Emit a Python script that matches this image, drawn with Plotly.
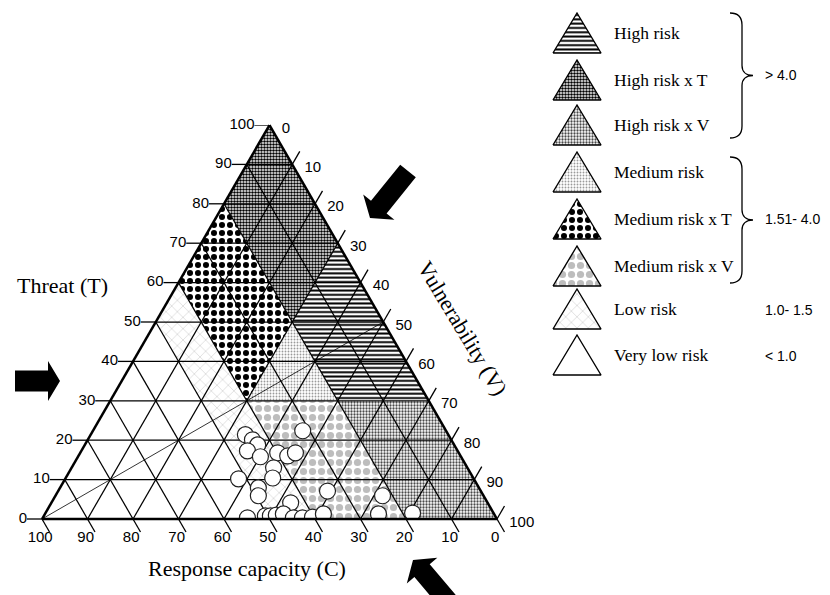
import math
import plotly.graph_objects as go

W, H = 830, 595
SQ3 = math.sqrt(3) / 2

# Ternary grid / tick values (percent)
TICKS = list(range(0, 101, 10))

# Risk zones: corners given as Threat (T), Vulnerability (V), Response capacity (C)
ZONE_NAMES = ["High risk", "High risk x T", "High risk x V", "Medium risk",
              "Medium risk x T", "Medium risk x V", "Low risk", "Very low risk"]
ZONE_T = [[70, 50, 30, 30], [100, 80, 50, 70], [30, 30, 0, 0], [50, 30, 30],
          [80, 60, 30, 50], [30, 30, 0, 0], [60, 50, 0, 0], [50, 0, 0]]
ZONE_V = [[30, 30, 50, 70], [0, 0, 30, 30], [50, 70, 100, 80], [30, 50, 30],
          [0, 0, 30, 30], [30, 50, 80, 60], [0, 0, 50, 60], [0, 0, 50]]
ZONE_C = [[0, 20, 20, 0], [0, 20, 20, 0], [20, 0, 0, 20], [20, 20, 40],
          [20, 40, 40, 20], [40, 20, 20, 40], [40, 50, 50, 40], [50, 100, 50]]

# Risk index classes shown beside the key
CLASS_LABELS = ["> 4.0", "1.51- 4.0", "1.0- 1.5", "< 1.0"]

# Observed sites (T and V in percent, C is the remainder)
SITE_T = [21.4, 20.1, 18.8, 17.3, 15.8, 16.8, 16.0, 16.8, 22.4, 13.0, 10.2, 10.4,
          7.9, 5.9, 4.1, 7.1, 0.3, 0.8, 0.8, 1.0, 1.3, 0.3, 0.3, 0.5, 1.3, 1.3,
          5.9, 1.5]
SITE_V = [34.0, 36.2, 38.0, 36.5, 40.1, 43.4, 46.0, 47.3, 46.1, 44.4, 38.1, 45.5,
          43.6, 44.6, 52.6, 59.2, 45.0, 48.7, 49.8, 51.0, 52.4, 55.1, 57.1, 59.2,
          61.2, 73.3, 71.9, 80.7]

# Fill textures for each zone
PATTERNS = {
    "High risk": dict(shape="-", fgcolor="black", bgcolor="white", size=4.3,
                      solidity=0.45, fgopacity=1),
    "High risk x T": dict(shape=".", fgcolor="black", bgcolor="white", size=3,
                          solidity=0.55, fgopacity=1),
    "High risk x V": dict(shape=".", fgcolor="#4a4a4a", bgcolor="white", size=3,
                          solidity=0.45, fgopacity=1),
    "Medium risk": dict(shape=".", fgcolor="#9a9a9a", bgcolor="white", size=3,
                        solidity=0.3, fgopacity=1),
    "Medium risk x T": dict(shape=".", fgcolor="black", bgcolor="white", size=8,
                            solidity=0.45, fgopacity=1),
    "Medium risk x V": dict(shape=".", fgcolor="#bdbdbd", bgcolor="white", size=9,
                            solidity=0.5, fgopacity=1),
    "Low risk": dict(shape="x", fgcolor="#cfcfcf", bgcolor="white", size=8,
                     solidity=0.15, fgopacity=1),
    "Very low risk": None,
}

SANS = "Liberation Sans, Arial, sans-serif"
SERIF = "Liberation Serif, Times New Roman, serif"
TICK_FONT = dict(family=SANS, size=15, color="black")

# placement of the triangle on the page (pixels)
TRI_LEFT, TRI_RIGHT, TRI_TOP, TRI_BOTTOM = 42, 497, 125, 519
TRI_W, TRI_H = TRI_RIGHT - TRI_LEFT, TRI_BOTTOM - TRI_TOP
DOM_X = [TRI_LEFT / W, TRI_RIGHT / W]
DOM_Y = [1 - TRI_BOTTOM / H, 1 - TRI_TOP / H]
# the planar under-layer reaches a little past the triangle so the ticks and
# labels around the frame sit inside its ranges (same scale as the triangle)
PAD_X, PAD_Y = 40, 45
PLANE_DOM_X = [(TRI_LEFT - PAD_X) / W, (TRI_RIGHT + PAD_X) / W]
PLANE_RANGE_X = [-PAD_X / TRI_W, 1 + PAD_X / TRI_W]
PLANE_DOM_Y = [1 - (TRI_BOTTOM + PAD_Y) / H, DOM_Y[1]]
PLANE_RANGE_Y = [-PAD_Y / TRI_H * SQ3, SQ3]

fig = go.Figure()


def project(t, v):
    """Ternary (T, V) percentages -> planar coordinates of the under-layer."""
    return [(vv + tt / 2) / 100 for tt, vv in zip(t, v)], [tt / 100 * SQ3 for tt in t]


# ---- textured zones, on a planar layer lying under the ternary subplot ----
for name, t, v in zip(ZONE_NAMES, ZONE_T, ZONE_V):
    pat = PATTERNS[name]
    kw = dict(fillpattern=pat) if pat else {}
    px, py = project(t + t[:1], v + v[:1])
    fig.add_trace(go.Scatter(
        x=px, y=py, mode="lines", fill="toself", fillcolor="white",
        line=dict(width=0, color="rgba(0,0,0,0)"), hoverinfo="skip",
        showlegend=False, xaxis="x2", yaxis="y2", **kw))

# ---- tick marks, each running along its own grid direction outside the frame ----
TL = 3.3  # tick length in percent units
tt, tv = [], []
for k in TICKS:
    tt += [k, k, None]; tv += [0, -TL, None]                         # Threat
    tt += [100 - k, 100 - k + TL, None]; tv += [k, k, None]          # Vulnerability
    tt += [0, -TL, None]; tv += [100 - k, 100 - k + TL, None]        # Response capacity
kx = [None if a is None else (b + a / 2) / 100 for a, b in zip(tt, tv)]
ky = [None if a is None else a / 100 * SQ3 for a in tt]
fig.add_trace(go.Scatter(x=kx, y=ky, mode="lines", cliponaxis=False,
                         line=dict(color="black", width=1.3), hoverinfo="skip",
                         showlegend=False, xaxis="x2", yaxis="y2"))

labels = [str(k) for k in TICKS]
# Threat labels, left of the horizontal ticks
lx, ly = project(TICKS, [-TL] * len(TICKS))
fig.add_trace(go.Scatter(x=lx, y=ly, mode="text", text=labels, textposition="middle left",
                         textfont=TICK_FONT, cliponaxis=False, hoverinfo="skip",
                         showlegend=False, xaxis="x2", yaxis="y2"))
# Vulnerability labels, right of the right-hand edge
lx, ly = project([100 - k - 1.0 for k in TICKS], [k + 3.2 for k in TICKS])
fig.add_trace(go.Scatter(x=lx, y=ly, mode="text", text=labels, textposition="middle right",
                         textfont=TICK_FONT, cliponaxis=False, hoverinfo="skip",
                         showlegend=False, xaxis="x2", yaxis="y2"))
# Response capacity labels, under the bottom edge
lx, ly = project([-4.8] * len(TICKS), [100 - k + 2.0 for k in TICKS])
fig.add_trace(go.Scatter(x=lx, y=ly, mode="text", text=labels, textposition="middle center",
                         textfont=TICK_FONT, cliponaxis=False, hoverinfo="skip",
                         showlegend=False, xaxis="x2", yaxis="y2"))

# ---- grid lines on the ternary subplot (a = T, b = C, c = V) ----
ga, gb, gc = [], [], []
for k in TICKS[1:-1]:
    r = 100 - k
    ga += [k, k, None]; gc += [0, r, None]; gb += [r, 0, None]      # constant T
    ga += [0, r, None]; gc += [k, k, None]; gb += [r, 0, None]      # constant V
    ga += [0, r, None]; gc += [r, 0, None]; gb += [k, k, None]      # constant C
fig.add_trace(go.Scatterternary(a=ga, b=gb, c=gc, mode="lines",
                                line=dict(color="black", width=1.25),
                                hoverinfo="skip", showlegend=False))

# T = V reference line from the C corner
fig.add_trace(go.Scatterternary(a=[0, 50], b=[100, 0], c=[0, 50], mode="lines",
                                line=dict(color="black", width=0.8),
                                hoverinfo="skip", showlegend=False))

# ---- sites ----
SITE_C = [100 - t - v for t, v in zip(SITE_T, SITE_V)]
fig.add_trace(go.Scatterternary(
    a=SITE_T, b=SITE_C, c=SITE_V, mode="markers",
    marker=dict(size=16, color="white", line=dict(color="#222", width=1.2)),
    showlegend=False))

# ---- key (drawn on a pixel-scaled helper axis) ----
KEY_Y = [33, 80, 125, 172, 219, 266, 309, 355]
for name, yc in zip(ZONE_NAMES, KEY_Y):
    pat = PATTERNS[name]
    kw = dict(fillpattern=pat) if pat else {}
    base, top = yc + 20, yc - 20
    fig.add_trace(go.Scatter(
        x=[553, 601, 577, 553], y=[base, base, top, base], mode="lines",
        fill="toself", fillcolor="white", line=dict(color="black", width=1.4),
        hoverinfo="skip", showlegend=False, xaxis="x", yaxis="y", **kw))

annotations = []
for name, yc in zip(ZONE_NAMES, KEY_Y):
    annotations.append(dict(x=612, y=yc, xref="x", yref="y", text=name, showarrow=False,
                            xanchor="left", yanchor="middle",
                            font=dict(family=SERIF, size=17.5, color="black")))
for txt, yc in zip(CLASS_LABELS, [75, 219, 310, 356]):
    annotations.append(dict(x=763, y=yc, xref="x", yref="y", text=txt, showarrow=False,
                            xanchor="left", yanchor="middle",
                            font=dict(family=SANS, size=14, color="black")))

annotations += [
    dict(x=62, y=285, xref="x", yref="y", text="Threat (T)", showarrow=False,
         font=dict(family=SERIF, size=22, color="black")),
    dict(x=247, y=568, xref="x", yref="y", text="Response capacity (C)", showarrow=False,
         font=dict(family=SERIF, size=22, color="black")),
    dict(x=463, y=328, xref="x", yref="y", text="Vulnerability (V)", showarrow=False,
         textangle=59, font=dict(family=SERIF, size=22, color="black")),
]


def brace(y0, y1, x0=730, spine=742, tip=753):
    m = (y0 + y1) / 2
    return (f"M {x0},{y0} C {x0+8},{y0} {spine},{y0+4} {spine},{y0+12} "
            f"L {spine},{m-10} C {spine},{m-4} {spine+4},{m} {tip},{m} "
            f"C {spine+4},{m} {spine},{m+4} {spine},{m+10} "
            f"L {spine},{y1-12} C {spine},{y1-4} {x0+8},{y1} {x0},{y1}")


def arrow(tail, tip, shaft_hw=10, head_hw=20, head_len=13):
    dx, dy = tip[0] - tail[0], tip[1] - tail[1]
    L = math.hypot(dx, dy)
    ux, uy = dx / L, dy / L
    px, py = -uy, ux
    bx, by = tip[0] - ux * head_len, tip[1] - uy * head_len
    pts = [(tail[0] + px * shaft_hw, tail[1] + py * shaft_hw),
           (bx + px * shaft_hw, by + py * shaft_hw),
           (bx + px * head_hw, by + py * head_hw),
           tip,
           (bx - px * head_hw, by - py * head_hw),
           (bx - px * shaft_hw, by - py * shaft_hw),
           (tail[0] - px * shaft_hw, tail[1] - py * shaft_hw)]
    return "M " + " L ".join(f"{x:.1f},{y:.1f}" for x, y in pts) + " Z"


shapes = [
    dict(type="path", path=brace(13, 138), xref="x", yref="y",
         line=dict(color="black", width=1.3)),
    dict(type="path", path=brace(157, 283), xref="x", yref="y",
         line=dict(color="black", width=1.3)),
    dict(type="path", path=arrow((15, 381), (60, 381), 10.5, 20, 12), xref="x", yref="y",
         fillcolor="black", line=dict(width=0)),
    dict(type="path", path=arrow((408, 171), (370, 218), 10, 20, 14), xref="x", yref="y",
         fillcolor="black", line=dict(width=0)),
    dict(type="path", path=arrow((452, 606), (413, 560), 10, 20, 14), xref="x", yref="y",
         fillcolor="black", line=dict(width=0)),
]

axis_common = dict(
    min=0, ticks="", showticklabels=False, showgrid=False, showline=True,
    linecolor="black", linewidth=2.5, title=dict(text=""),
)

fig.update_layout(
    width=W, height=H,
    margin=dict(l=0, r=0, t=0, b=0),
    paper_bgcolor="white", plot_bgcolor="rgba(0,0,0,0)",
    showlegend=False,
    xaxis=dict(domain=[0, 1], range=[0, W], visible=False, fixedrange=True),
    yaxis=dict(domain=[0, 1], range=[H, 0], visible=False, fixedrange=True),
    xaxis2=dict(domain=PLANE_DOM_X, range=PLANE_RANGE_X, visible=False, fixedrange=True,
                anchor="y2"),
    yaxis2=dict(domain=PLANE_DOM_Y, range=PLANE_RANGE_Y, visible=False, fixedrange=True,
                anchor="x2"),
    ternary=dict(
        sum=100,
        domain=dict(x=DOM_X, y=DOM_Y),
        bgcolor="rgba(0,0,0,0)",
        aaxis=axis_common, baxis=axis_common, caxis=axis_common,
    ),
    annotations=annotations,
    shapes=shapes,
)

fig.write_html("out.html")
